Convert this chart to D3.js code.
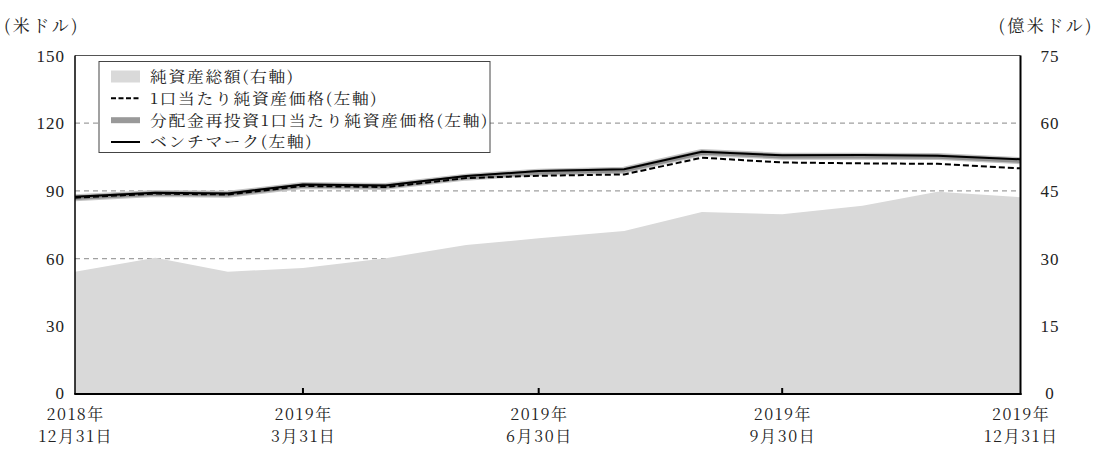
<!DOCTYPE html>
<html><head><meta charset="utf-8">
<script src="https://cdn.jsdelivr.net/npm/d3@7"></script>
<style>
html,body{margin:0;padding:0;background:#fff;}
</style></head>
<body>
<svg id="chart" width="1096" height="450"></svg>
<script>
// ---- data ----
const dates = ["2018-12-31","2019-01-31","2019-02-28","2019-03-29","2019-04-30","2019-05-31","2019-06-28","2019-07-31","2019-08-30","2019-09-30","2019-10-31","2019-11-29","2019-12-31"];
const netAssets = [27.1,30.2,27.1,27.9,30.1,33.0,34.5,36.1,40.3,39.8,41.7,44.8,43.6]; // 億米ドル (right axis)
const navPerUnit = [87.0,88.8,88.4,92.2,91.7,95.7,96.7,97.3,104.7,102.6,102.2,102.0,100.0]; // 米ドル
const navReinvested = [87.0,88.8,88.5,92.4,92.0,96.1,98.3,99.2,107.0,105.4,105.3,105.2,103.4];
const benchmark = [87.4,89.2,88.9,92.8,92.4,96.6,98.8,99.6,107.3,105.8,105.9,105.6,104.0];
const leftTicks = [0,30,60,90,120,150];
const rightTicks = [0,15,30,45,60,75];
const xTickDates = ["2018-12-31","2019-03-29","2019-06-28","2019-09-30","2019-12-31"];
const xTickLabels = [["2018年","12月31日"],["2019年","3月31日"],["2019年","6月30日"],["2019年","9月30日"],["2019年","12月31日"]];
const legendLabels = ["純資産総額(右軸)","1口当たり純資産価格(左軸)","分配金再投資1口当たり純資産価格(左軸)","ベンチマーク(左軸)"];

// ---- layout ----
const svg = d3.select("#chart");
const FONT = '"Noto Serif CJK JP", serif';
const NUMFONT = '"Liberation Serif", serif';
const L = 75, R = 1020.5, T = 55.5, B = 394;
const FS = 17;
const parse = d3.timeParse("%Y-%m-%d");
const dts = dates.map(parse);
const x = d3.scaleTime().domain([dts[0], dts[dts.length-1]]).range([L, R]);
const yL = d3.scaleLinear().domain([0,150]).range([B, T]);
const yR = d3.scaleLinear().domain([0,75]).range([B, T]);

// gridlines
svg.append("g").selectAll("line").data(leftTicks.filter(v=>v>0 && v<150)).join("line")
  .attr("x1", L).attr("x2", R).attr("y1", d=>yL(d)).attr("y2", d=>yL(d))
  .attr("stroke","#a0a0a0").attr("stroke-width",1.2).attr("stroke-dasharray","5,4");

// area
const area = d3.area().x((d,i)=>x(dts[i])).y0(B).y1(d=>yR(d));
svg.append("path").datum(netAssets).attr("d", area).attr("fill","#d9d9d9");

const line = d3.line().x((d,i)=>x(dts[i])).y(d=>yL(d));
svg.append("path").datum(navReinvested).attr("d", line).attr("fill","none")
  .attr("stroke","#c4c4c4").attr("stroke-width",7).attr("stroke-linejoin","round");
svg.append("path").datum(navReinvested).attr("d", line).attr("fill","none")
  .attr("stroke","#8f8f8f").attr("stroke-width",4.5).attr("stroke-linejoin","round");
svg.append("path").datum(navPerUnit).attr("d", line).attr("fill","none")
  .attr("stroke","#000").attr("stroke-width",2).attr("stroke-dasharray","6,3");
svg.append("path").datum(benchmark).attr("d", line).attr("fill","none")
  .attr("stroke","#000").attr("stroke-width",2);

// frame
svg.append("line").attr("x1",L).attr("x2",R).attr("y1",T).attr("y2",T).attr("stroke","#555").attr("stroke-width",1.2);
svg.append("line").attr("x1",L).attr("x2",L).attr("y1",T).attr("y2",B).attr("stroke","#000").attr("stroke-width",1.5);
svg.append("line").attr("x1",R).attr("x2",R).attr("y1",T).attr("y2",B+1).attr("stroke","#000").attr("stroke-width",2);
svg.append("line").attr("x1",L-0.75).attr("x2",R+1).attr("y1",B).attr("y2",B).attr("stroke","#000").attr("stroke-width",2);

// x ticks (inside)
const xt = xTickDates.map(parse);
svg.append("g").selectAll("line").data(xt.slice(1,-1)).join("line")
  .attr("x1",d=>x(d)).attr("x2",d=>x(d)).attr("y1",B).attr("y2",B-6)
  .attr("stroke","#000").attr("stroke-width",2);

function txt(sel, ls, f){ return sel.style("font-family", f||FONT).style("letter-spacing", (ls||0)+"px").attr("fill","#222"); }

// x labels
const xl = svg.append("g").attr("text-anchor","middle");
xt.forEach((d,i)=>{
  const cx = x(d) + 0.75;
  const t = txt(xl.append("text"), 1.6).attr("font-size",16).attr("x", cx).attr("y", 420);
  t.append("tspan").attr("x", cx).attr("dy",0).text(xTickLabels[i][0]);
  t.append("tspan").attr("x", cx).attr("dy",22).text(xTickLabels[i][1]);
});

// left y labels
txt(svg.append("g").attr("text-anchor","end").selectAll("text").data(leftTicks).join("text"), 1, NUMFONT)
  .attr("font-size",FS).attr("x", 65).attr("y", d=>yL(d)+(d===0?4.5:6)).text(d=>d);
// right y labels
txt(svg.append("g").attr("text-anchor","middle").selectAll("text").data(rightTicks).join("text"), 1, NUMFONT)
  .attr("font-size",FS).attr("x", 1050).attr("y", d=>yR(d)+ (d===0?5:6)).text(d=>d);

// axis units
txt(svg.append("text"), 2.5).attr("x",4).attr("y",32).attr("font-size",FS).text("(米ドル)");
txt(svg.append("text"), 2.5).attr("x",1094).attr("y",32).attr("font-size",FS).attr("text-anchor","end").text("(億米ドル)");

// legend
const lg = svg.append("g");
lg.append("rect").attr("x",99).attr("y",61.5).attr("width",391).attr("height",91).attr("fill","#fff").attr("stroke","#444").attr("stroke-width",1);
const rowY = [76.5, 98.3, 120.2, 142];
const sx1 = 111, sx2 = 140;
lg.append("rect").attr("x",sx1).attr("y",rowY[0]-6).attr("width",sx2-sx1).attr("height",12).attr("fill","#d9d9d9");
lg.append("line").attr("x1",sx1).attr("x2",sx2).attr("y1",rowY[1]).attr("y2",rowY[1]).attr("stroke","#000").attr("stroke-width",2).attr("stroke-dasharray","5,2.5");
lg.append("line").attr("x1",sx1).attr("x2",sx2).attr("y1",rowY[2]).attr("y2",rowY[2]).attr("stroke","#999").attr("stroke-width",6);
lg.append("line").attr("x1",sx1).attr("x2",sx2).attr("y1",rowY[3]).attr("y2",rowY[3]).attr("stroke","#000").attr("stroke-width",2);
const lt = lg.append("g").attr("transform","translate(150,0) scale(1.12,1)");
txt(lt.selectAll("text.lg").data(legendLabels).join("text").attr("class","lg"), 1.5)
  .attr("x",0).attr("y",(d,i)=>rowY[i]+5.5).attr("font-size",15).text(d=>d);
</script>
</body></html>
